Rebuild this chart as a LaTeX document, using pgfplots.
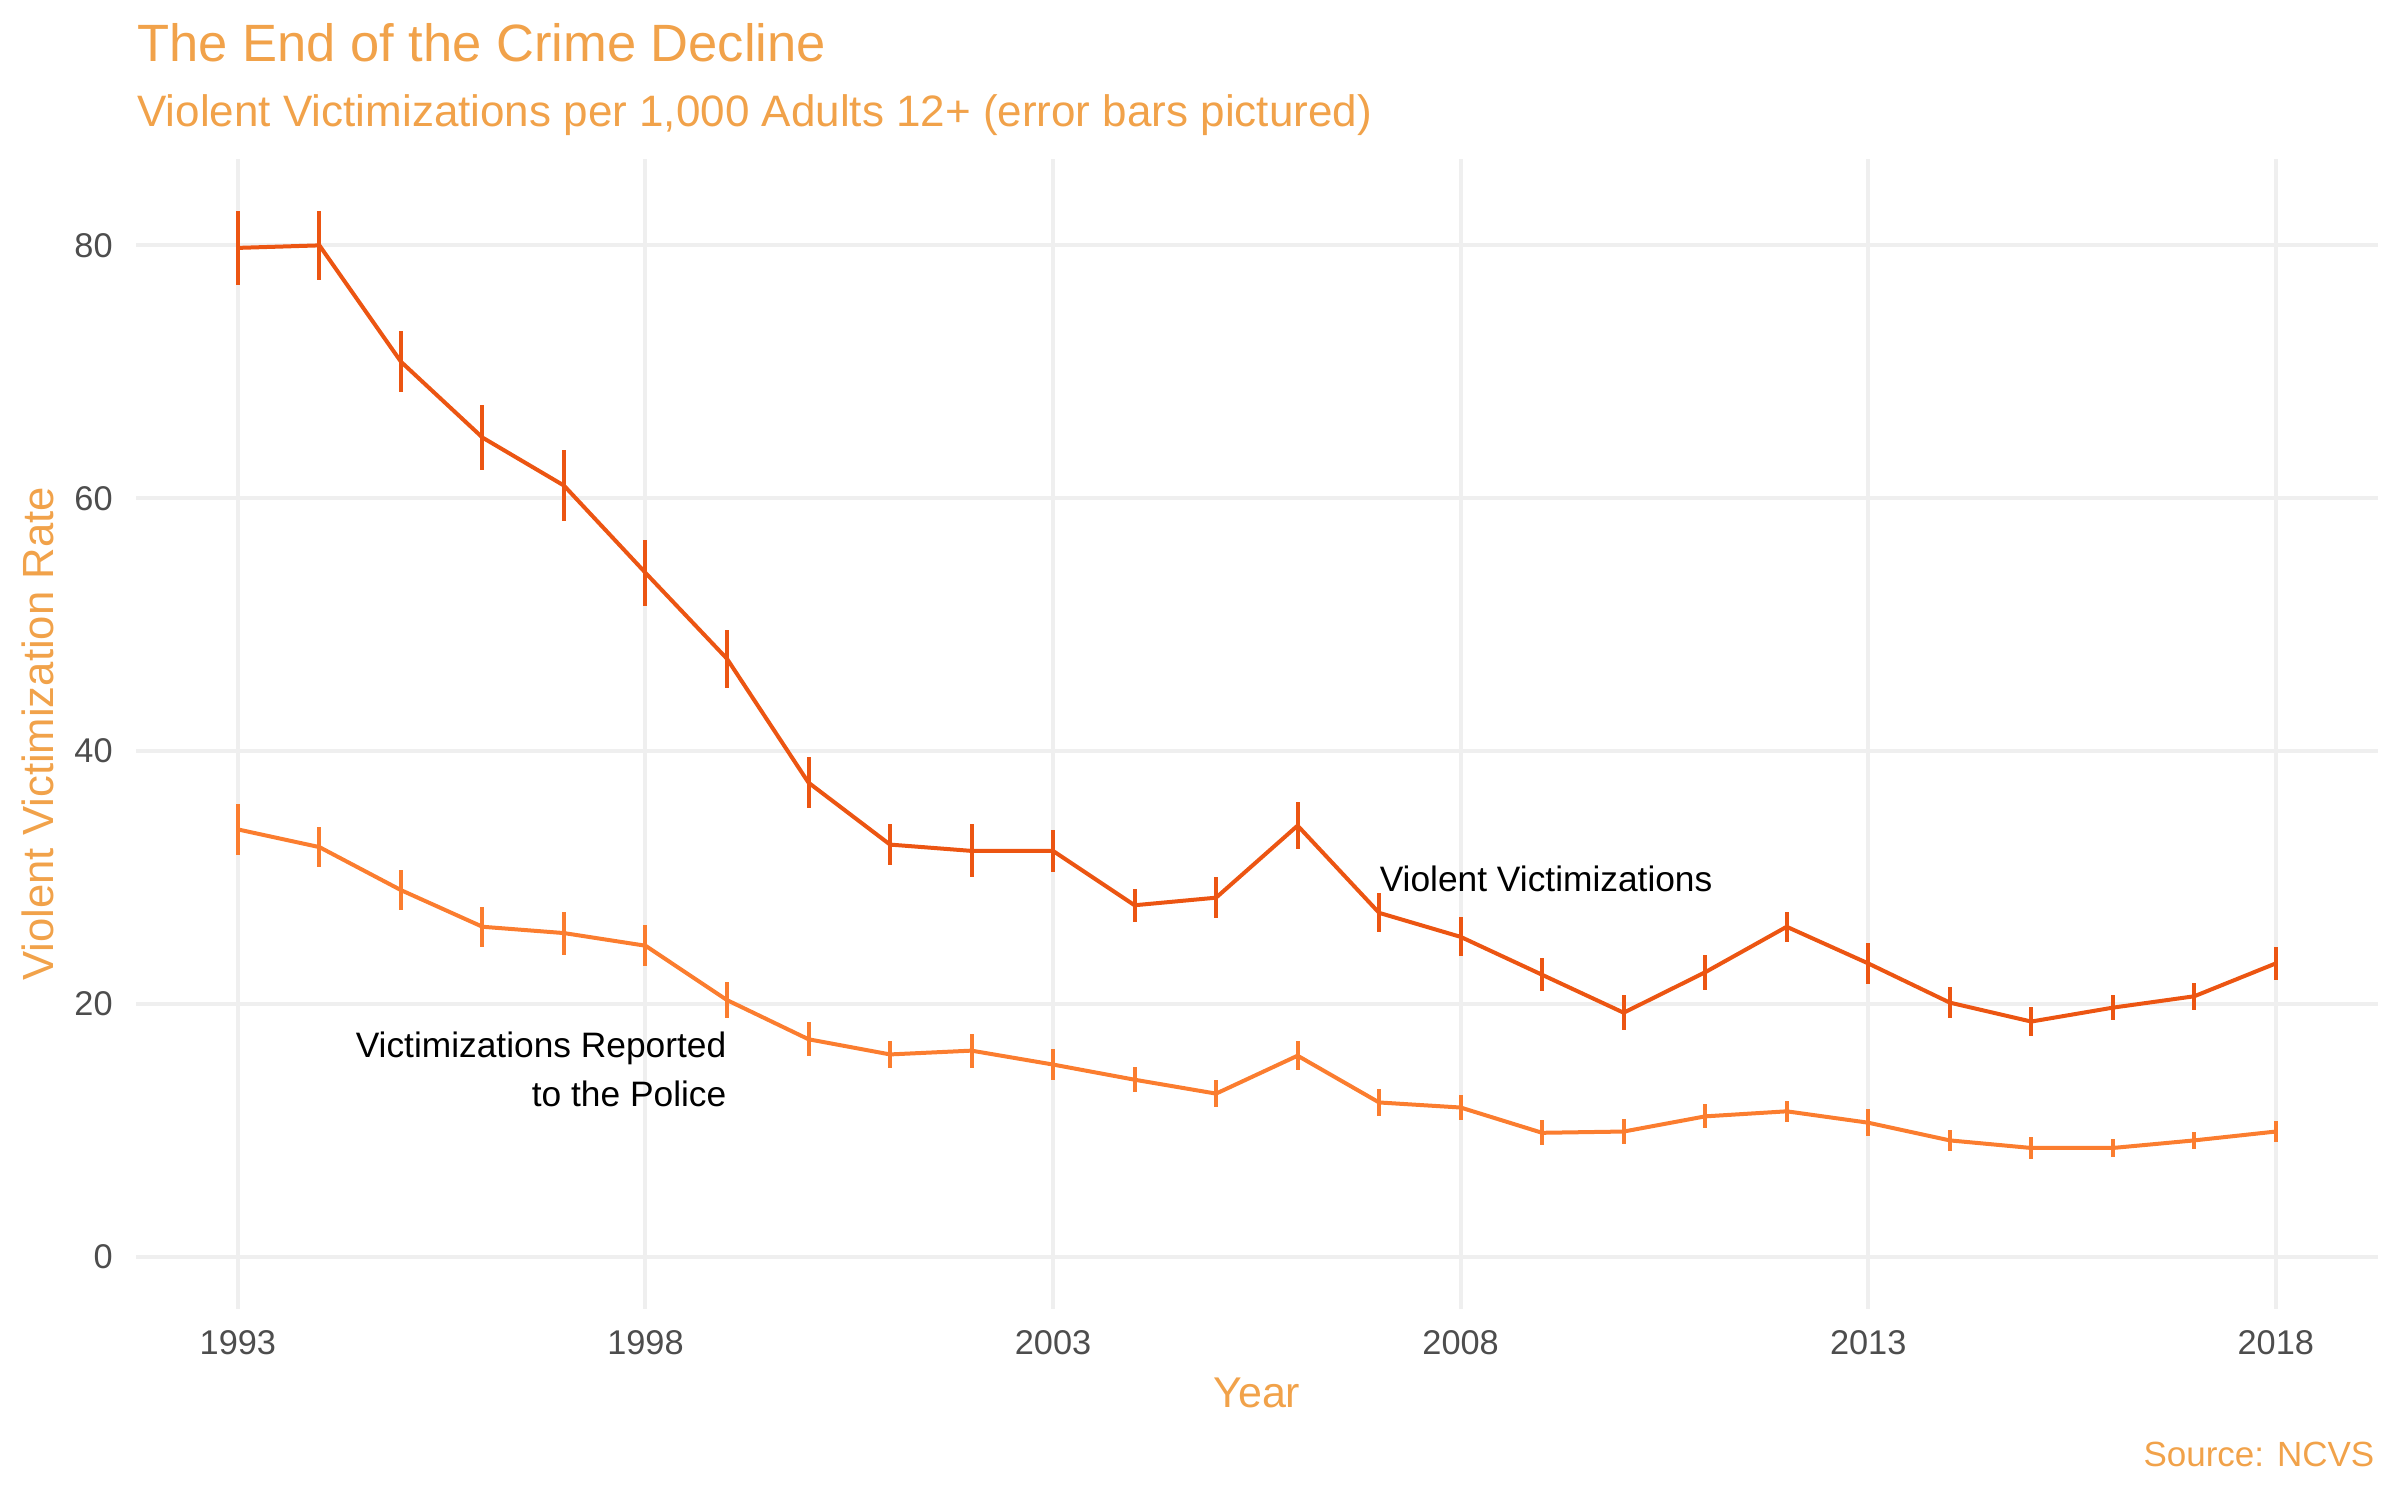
\documentclass[border=0pt]{standalone}
\usepackage{fontspec}
\setmainfont{Liberation Sans}
\usepackage{pgfplots}
\pgfplotsset{compat=1.18}
\usepackage{pgfplotstable}
\definecolor{redl}{HTML}{EC5512}
\definecolor{orl}{HTML}{FB7D2F}
\definecolor{ttl}{HTML}{F1A24A}
\definecolor{grd}{HTML}{EFEFEF}
\definecolor{tck}{HTML}{4D4D4D}

\pgfplotstableread{
year v e
1993 79.8 2.9
1994 80.0 2.7
1995 70.8 2.4
1996 64.8 2.6
1997 61.0 2.8
1998 54.1 2.6
1999 47.3 2.3
2000 37.5 2.0
2001 32.6 1.65
2002 32.1 2.1
2003 32.1 1.65
2004 27.8 1.3
2005 28.4 1.6
2006 34.1 1.85
2007 27.2 1.55
2008 25.3 1.55
2009 22.3 1.3
2010 19.3 1.4
2011 22.5 1.4
2012 26.1 1.2
2013 23.2 1.6
2014 20.1 1.2
2015 18.6 1.15
2016 19.7 1.0
2017 20.6 1.05
2018 23.2 1.3
}\tabviol

\pgfplotstableread{
year v e
1993 33.8 2.0
1994 32.4 1.6
1995 29.0 1.6
1996 26.1 1.6
1997 25.6 1.7
1998 24.6 1.6
1999 20.3 1.4
2000 17.2 1.35
2001 16.0 1.1
2002 16.3 1.35
2003 15.2 1.2
2004 14.0 1.0
2005 12.9 1.05
2006 15.9 1.15
2007 12.2 1.1
2008 11.8 1.0
2009 9.8 1.0
2010 9.9 1.0
2011 11.1 0.95
2012 11.5 0.85
2013 10.6 1.05
2014 9.2 0.85
2015 8.6 0.85
2016 8.6 0.7
2017 9.2 0.7
2018 9.9 0.85
}\tabrep

\begin{document}
\begin{tikzpicture}[x=1pt,y=1pt]
\useasboundingbox (-40.8,-57.33) rectangle (679.2,392.67);
\begin{axis}[
  at={(0,0)}, anchor=south west,
  scale only axis, width=672.5pt, height=345pt,
  xmin=1991.75, xmax=2019.25, ymin=-4.13, ymax=86.84,
  axis line style={draw=none},
  major tick length=0pt, minor tick num=0,
  xmajorgrids, ymajorgrids,
  grid style={grd, line width=1.2pt},
  xtick={1993,1998,2003,2008,2013,2018},
  ytick={0,20,40,60,80},
  /pgf/number format/1000 sep={},
  /pgf/number format/assume math mode=true,
  xticklabel style={anchor=center, inner sep=0pt, yshift=-10.1pt, text=tck, font=\fontsize{10.3}{12}\selectfont},
  yticklabel style={anchor=east, inner sep=0pt, xshift=-6.8pt, text=tck, font=\fontsize{10.3}{12}\selectfont},
  xlabel={Year},
  xlabel style={at={(rel axis cs:0.5,-0.07304)}, anchor=center, inner sep=0pt, text=ttl, font=\fontsize{12.9}{15}\selectfont},
  ylabel={Violent Victimization Rate},
  ylabel style={at={(rel axis cs:-0.04357,0.5)}, anchor=center, rotate=0, inner sep=0pt, text=ttl, font=\fontsize{13.1}{15}\selectfont},
  clip=false,
]
\addplot[redl, line width=1.2pt, mark=none, line join=round,
  error bars/.cd, y dir=both, y explicit, error mark=none,
  error bar style={line width=1.2pt, redl}]
  table[x=year, y=v, y error=e]{\tabviol};
\addplot[orl, line width=1.2pt, mark=none, line join=round,
  error bars/.cd, y dir=both, y explicit, error mark=none,
  error bar style={line width=1.2pt, orl}]
  table[x=year, y=v, y error=e]{\tabrep};
\node[anchor=west, inner sep=0pt, font=\fontsize{10.6}{12.5}\selectfont] at (axis cs:2007,29.9) {Violent Victimizations};
\node[anchor=east, align=right, inner sep=0pt, font=\fontsize{10.6}{14.8}\selectfont] at (axis cs:1999,14.8) {Victimizations Reported\\to the Police};
\end{axis}
\node[anchor=base west, inner sep=0pt, text=ttl, font=\fontsize{15.75}{18}\selectfont] at (0.2,374.2) {The End of the Crime Decline};
\node[anchor=base west, inner sep=0pt, text=ttl, font=\fontsize{13.2}{15}\selectfont] at (0.2,354.7) {Violent Victimizations per 1,000 Adults 12+ (error bars pictured)};
\node[anchor=east, inner sep=0pt, text=ttl, font=\fontsize{10.5}{12}\selectfont] at (671.7,-43.8) {Source: NCVS};
\end{tikzpicture}
\end{document}
